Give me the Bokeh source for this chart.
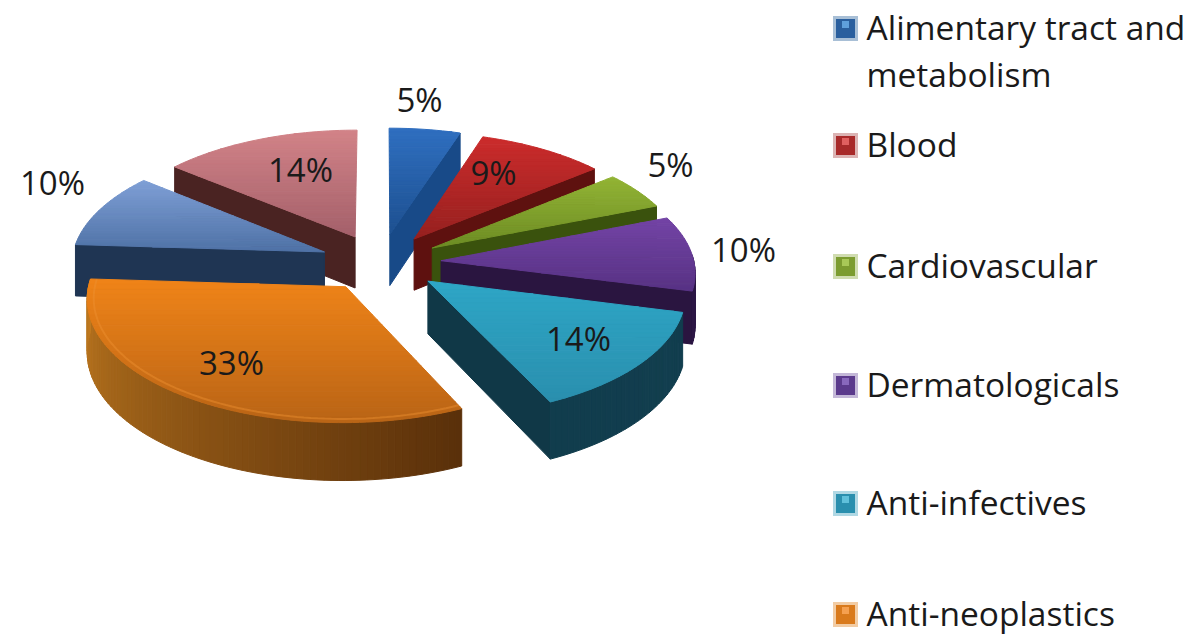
import math
from bokeh.plotting import figure
from bokeh.models import Range1d
from bokeh.core.properties import value
from bokeh.embed import file_html
from bokeh.resources import INLINE

categories = ["Alimentary tract and\nmetabolism", "Blood", "Cardiovascular",
              "Dermatologicals", "Anti-infectives", "Anti-neoplastics",
              "Others A", "Others B"]
shares = [5, 9, 5, 10, 14, 33, 10, 14]
labels = ["5%", "9%", "5%", "10%", "14%", "33%", "10%", "14%"]
label_x = [419, 493, 670, 743, 578, 231, 52, 300]
label_y = [99, 172, 164, 249, 338, 362, 182, 169]
top_hi = ["#2f6fc0", "#cc2c2c", "#93b535", "#7444a6", "#2ea6c6", "#f08418", "#7f9fd6", "#d28388"]
top_lo = ["#1d5090", "#96201f", "#6d8c24", "#573284", "#2a8fae", "#b96416", "#4f72a6", "#a4606a"]
wall_a = ["#1f5aa5", "#701612", "#43600f", "#2c1745", "#123f50", "#c07a20", "#1f3553", "#552a28"]
wall_b = ["#184a88", "#5e110f", "#3a520d", "#2a1540", "#103847", "#5a300a", "#1f3553", "#4a2322"]
legend_rows = [28, 145, 266, 385, 503, 614]
legend_colors = ["#2a5f9e", "#a82a2a", "#7c9c30", "#5b3a8c", "#2a8fae", "#d97a1c"]
legend_light = ["#a8bfd6", "#dcb4b4", "#d0dcb0", "#c4b8d8", "#b0d8e4", "#f2cca4"]
legend_spot = ["#5fa0dc", "#e06060", "#a8c858", "#8868bc", "#60c0da", "#f5a050"]

CX, CY, A, B, K, D, EXPL = 380.0, 262.0, 253.0, 120.0, 0.085, 52.0, 0.24
order = [0, 7, 1, 2, 6, 3, 4, 5]


def proj(X, Y, Z=0.0):
    s = 1.0 / (1.0 + K * Y)
    return CX + A * X * s, CY - B * Y * s + D * Z * s


def hx(c):
    return [int(c[i:i + 2], 16) for i in (1, 3, 5)]


def mix(a, b, t):
    t = max(0.0, min(1.0, t))
    ca, cb = hx(a), hx(b)
    return "#%02x%02x%02x" % tuple(round(ca[i] + (cb[i] - ca[i]) * t) for i in range(3))


def clip(poly, y0, y1):
    def half(pts, keep, cross):
        out = []
        for i, p in enumerate(pts):
            q = pts[(i + 1) % len(pts)]
            if keep(p):
                out.append(p)
            if keep(p) != keep(q):
                t = (cross - p[1]) / (q[1] - p[1])
                out.append((p[0] + (q[0] - p[0]) * t, cross))
        return out
    r = half(poly, lambda p: p[1] >= y0, y0)
    if r:
        r = half(r, lambda p: p[1] <= y1, y1)
    return r


xs, ys, cols = [], [], []


def add(poly, col):
    xs.append([p[0] for p in poly])
    ys.append([p[1] for p in poly])
    cols.append(col)


cum = [0]
for s in shares:
    cum.append(cum[-1] + s)
total = cum[-1]

rims = []
for i in order:
    t1 = cum[i] / total * 2 * math.pi
    t2 = cum[i + 1] / total * 2 * math.pi
    mid = (t1 + t2) / 2
    ox, oy = EXPL * math.sin(mid), EXPL * math.cos(mid)
    n = max(8, int((t2 - t1) * 40))
    th = [t1 + (t2 - t1) * j / n for j in range(n + 1)]
    rim = [(ox + math.sin(t), oy + math.cos(t)) for t in th]
    if math.sin(t1) < -1e-6:
        add([proj(ox, oy), proj(*rim[0]), proj(*rim[0], 1), proj(ox, oy, 1)], wall_b[i])
    if math.sin(t2) > 1e-6:
        add([proj(ox, oy), proj(*rim[-1]), proj(*rim[-1], 1), proj(ox, oy, 1)], wall_b[i])
    for j in range(n):
        if math.cos(th[j]) < 0.05 or math.cos(th[j + 1]) < 0.05:
            u = (th[j] - math.pi / 2) / math.pi
            f = 1 - max(0.0, min(1.0, u)) if i != 5 else (th[j] - t1) / (t2 - t1)
            c = mix(wall_b[i], wall_a[i], f)
            add([proj(*rim[j]), proj(*rim[j + 1]), proj(*rim[j + 1], 1), proj(*rim[j], 1)], c)
    poly = [proj(ox, oy)] + [proj(*q) for q in rim]
    lo = min(p[1] for p in poly)
    hi = max(p[1] for p in poly)
    bands = 28
    for b in range(bands):
        y0 = lo + (hi - lo) * b / bands
        y1 = lo + (hi - lo) * (b + 1) / bands
        part = clip(poly, y0, y1)
        if len(part) >= 3:
            add(part, mix(top_hi[i], top_lo[i], (b + .5) / bands))
    if i == 5:
        inner = [(ox + 0.975 * math.sin(t), oy + 0.975 * math.cos(t)) for t in th]
        rims.append(([proj(*q)[0] for q in inner], [proj(*q)[1] for q in inner]))

p = figure(width=1200, height=636, x_range=Range1d(0, 1200), y_range=Range1d(636, 0),
           output_backend="svg", toolbar_location=None, min_border=0,
           outline_line_color=None, background_fill_color="white", border_fill_color="white")
p.axis.visible = False
p.grid.visible = False

p.patches(xs, ys, fill_color=cols, line_color=cols, line_width=1.0)
for rx, ry in rims:
    p.line(rx, ry, line_color="#ee9030", line_width=2, line_alpha=0.45)

shown = categories[:6]
for lx, ly, t in zip(label_x, label_y, labels):
    p.text([lx], [ly], text=[t], text_font=value("Open Sans"), text_font_size="33px",
           text_color="#1a1a1a", text_align="center", text_baseline="middle")

p.scatter([845] * 6, legend_rows, marker="square", size=25, fill_color=legend_light,
          line_color=None)
p.scatter([845] * 6, legend_rows, marker="square", size=19, fill_color=legend_colors,
          line_color=None)
p.scatter([845] * 6, [y - 4 for y in legend_rows], marker="square", size=7,
          fill_color=legend_spot, line_color=None)
for name, y in zip(shown, legend_rows):
    parts = name.split("\n")
    for k, part in enumerate(parts):
        p.text([866], [y - 2 + k * 47], text=[part], text_font=value("Open Sans"),
               text_font_size="33.5px", text_color="#1a1a1a",
               text_align="left", text_baseline="middle")

open("out.html", "w").write(file_html(p, INLINE))
